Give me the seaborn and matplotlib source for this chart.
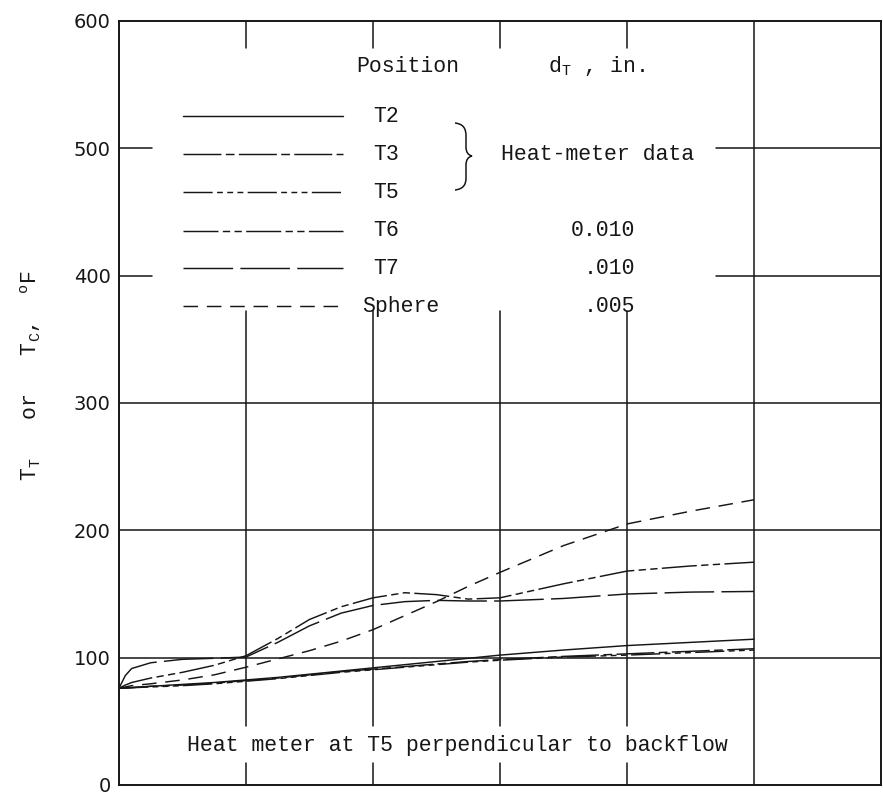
import matplotlib
matplotlib.use("Agg")
import numpy as np
import pandas as pd
import matplotlib.pyplot as plt
import seaborn as sns
from matplotlib.path import Path
from matplotlib.patches import PathPatch

# ---- data -------------------------------------------------------------
time = [0, 0.05, 0.1, 0.25, 0.5, 0.75, 1.0, 1.25, 1.5, 1.75, 2.0,
        2.25, 2.5, 2.75, 3.0, 3.5, 4.0, 4.5, 5.0]

t2 = [76, 76.2, 76.5, 77.5, 79, 80.5, 82.5, 84.5, 87, 89.5, 92,
      94.5, 97, 99.5, 102, 106, 109.5, 112, 114.5]
t3 = [76, 76.2, 76.5, 77.5, 78.5, 80, 82, 84, 86.5, 89, 91,
      93, 95, 97, 98.5, 101, 103, 105, 107]
t5 = [76, 76.2, 76.4, 77, 78, 79.5, 81.5, 83.5, 86, 88.5, 90.5,
      92.5, 94.5, 96.5, 98, 100.5, 102, 104, 106]
t6 = [76, 78.5, 80.5, 84, 88.5, 94, 101.5, 115, 130, 140, 147,
      151, 149.5, 146, 147, 158, 168, 172, 175]
t7 = [76, 86, 91.5, 96, 98.7, 99.5, 100.5, 112, 125, 135, 141,
      144, 145, 144.5, 144.5, 146.5, 150, 151.5, 152]
sphere = [76, 77, 78, 79.5, 82.5, 86.5, 92.5, 99, 105.5, 113, 122,
          133, 144, 156, 167, 188, 205, 215, 224]

positions = ["T2", "T3", "T5", "T6", "T7", "Sphere"]
diameters = ["", "", "", "0.010", ".010", ".005"]
y_ticks = [0, 100, 200, 300, 400, 500, 600]

series = dict(zip(positions, [t2, t3, t5, t6, t7, sphere]))
df = pd.DataFrame(
    [(name, t, v) for name, vals in series.items() for t, v in zip(time, vals)],
    columns=["position", "time", "temp"],
)

# ---- styles -----------------------------------------------------------
INK = "#161616"
dash_styles = {
    "T2": "",
    "T3": (26, 3, 6, 3),
    "T5": (20, 3, 4, 3, 4, 3, 4, 3),
    "T6": (24, 3, 5, 3, 5, 3),
    "T7": (34, 5),
    "Sphere": (10, 6),
}
TYPE = "Liberation Mono"

sns.set_theme(style="white")
plt.rcParams["font.family"] = ["DejaVu Sans"]
plt.rcParams["mathtext.fontset"] = "custom"
plt.rcParams["mathtext.rm"] = TYPE
plt.rcParams["mathtext.it"] = TYPE

fig = plt.figure(figsize=(8.83, 7.95), dpi=100)
ax = fig.add_axes([119 / 883, 10 / 795, 762 / 883, 764 / 795])

sns.lineplot(
    data=df, x="time", y="temp", hue="position", style="position",
    palette={p: INK for p in positions}, dashes=dash_styles,
    linewidth=1.05, legend=False, ax=ax, estimator=None,
)

ax.set_xlim(0, 6)
ax.set_ylim(0, 600)
ax.set_xticks([])
ax.set_yticks(y_ticks)
ax.set_yticklabels([str(v) for v in y_ticks], fontsize=14, color=INK)
ax.tick_params(axis="y", length=0, pad=6)
ax.set_xlabel("")
ax.set_ylabel("")
for s in ax.spines.values():
    s.set_color(INK)
    s.set_linewidth(1.4)

# ---- grid (broken around the key and the note) ------------------------
glw = 1.1
for v in (100, 200, 300):
    ax.axhline(v, color=INK, lw=glw, zorder=1)
for v in (400, 500):
    ax.axhline(v, xmin=0, xmax=0.043, color=INK, lw=glw, zorder=1)
    ax.axhline(v, xmin=0.783, xmax=1, color=INK, lw=glw, zorder=1)
for xv in (1, 2, 3, 4):
    ax.axvline(xv, ymin=0.965, ymax=1, color=INK, lw=glw, zorder=1)
    ax.axvline(xv, ymin=46 / 600, ymax=372 / 600, color=INK, lw=glw, zorder=1)
    ax.axvline(xv, ymin=0, ymax=17 / 600, color=INK, lw=glw, zorder=1)
ax.axvline(5, color=INK, lw=glw, zorder=1)

# ---- key --------------------------------------------------------------
def frac(px, py):
    return ((px - 119) / 762, (785 - py) / 764)

tkw = dict(transform=ax.transAxes, fontfamily=TYPE, fontsize=15.5,
           color=INK, va="center")
ax.text(*frac(408, 66), "Position", ha="center", **tkw)
ax.text(*frac(548, 66), r"d$_{\mathrm{T}}$ , in.", ha="left", **tkw)

row_y = [116, 154.3, 192.3, 230.7, 268.3, 306]
label_x = [386, 386, 386, 386, 386, 401]
for name, d, py, lx in zip(positions, diameters, row_y, label_x):
    x0, yf = frac(183, py)
    x1, _ = frac(343, py)
    ln, = ax.plot([x0, x1], [yf, yf], transform=ax.transAxes,
                  color=INK, lw=1.05)
    if dash_styles[name]:
        ln.set_dashes(dash_styles[name])
    ax.text(*frac(lx, py), name, ha="center", **tkw)
    if d:
        ax.text(*frac(635, py), d, ha="right", **tkw)

ax.text(*frac(598, 155), "Heat-meter data", ha="center", **tkw)

brace_px = [(455, 123), (463, 124), (466, 128), (466, 136),
            (466, 147),
            (466, 152), (468, 155), (472, 156),
            (468, 157), (466, 160), (466, 165),
            (466, 178),
            (466, 185), (463, 189), (455, 190)]
codes = [Path.MOVETO, Path.CURVE4, Path.CURVE4, Path.CURVE4,
         Path.LINETO,
         Path.CURVE4, Path.CURVE4, Path.CURVE4,
         Path.CURVE4, Path.CURVE4, Path.CURVE4,
         Path.LINETO,
         Path.CURVE4, Path.CURVE4, Path.CURVE4]
brace = Path([frac(*p) for p in brace_px], codes)
ax.add_patch(PathPatch(brace, transform=ax.transAxes, fill=False,
                       edgecolor=INK, lw=1.1))

ax.text(*frac(457, 745), "Heat meter at T5 perpendicular to backflow",
        ha="center", **tkw)

fig.text(31 / 883, 1 - 376 / 795,
         r"T$_{\mathrm{T}}$   or   T$_{\mathrm{C}}$,  $^{\mathrm{o}}$F",
         rotation=90, ha="center", va="center", fontfamily=TYPE,
         fontsize=15.5, color=INK)

fig.savefig("out.png", dpi=100, facecolor="white")
